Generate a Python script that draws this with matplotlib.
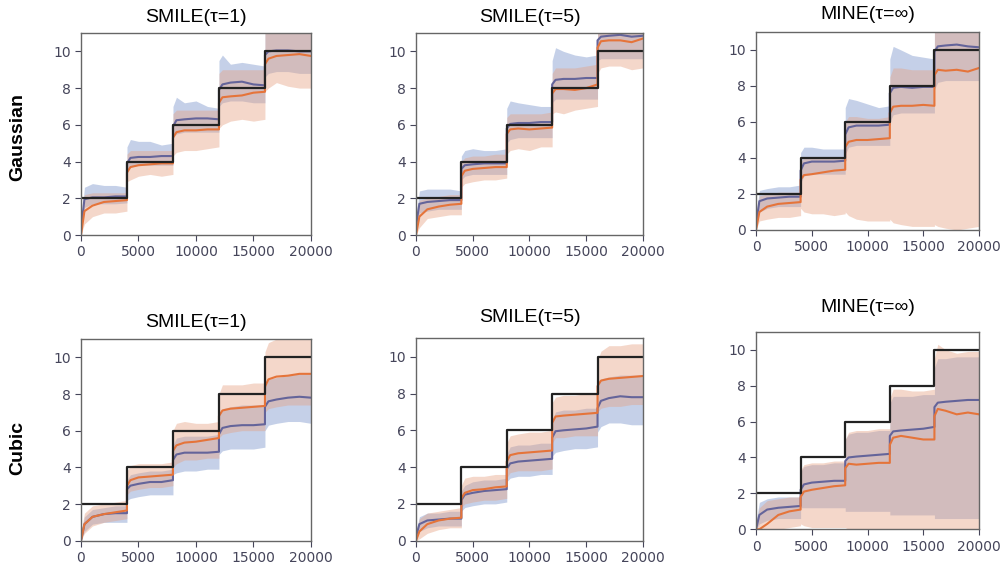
import matplotlib.pyplot as plt
import numpy as np

# training steps where values were read (6 per 4000-step stage)
steps = [0, 300, 1000, 2000, 3000, 3999,
         4000, 4300, 5000, 6000, 7000, 7999,
         8000, 8300, 9000, 10000, 11000, 11999,
         12000, 12300, 13000, 14000, 15000, 15999,
         16000, 16300, 17000, 18000, 19000, 20000]

true_edges = [0, 4000, 8000, 12000, 16000, 20000]
true_mi = [2, 4, 6, 8, 10, 10]

titles = ['SMILE(\u03c4=1)', 'SMILE(\u03c4=5)', 'MINE(\u03c4=\u221e)',
          'SMILE(\u03c4=1)', 'SMILE(\u03c4=5)', 'MINE(\u03c4=\u221e)']
row_labels = ['Gaussian', 'Cubic']

# ---- Gaussian, SMILE tau=1
g1_blue_mean = [0.3, 1.95, 2.05, 2.05, 2.1, 2.1, 3.9, 4.2, 4.25, 4.25, 4.3, 4.3,
                5.9, 6.25, 6.3, 6.35, 6.35, 6.3, 7.9, 8.2, 8.3, 8.35, 8.2, 8.15,
                9.8, 10.0, 10.05, 10.05, 10.0, 10.0]
g1_blue_low = [0.0, 1.5, 1.7, 1.7, 1.7, 1.75, 3.5, 3.7, 3.8, 3.8, 3.8, 3.8,
               5.3, 5.5, 5.6, 5.6, 5.6, 5.6, 7.0, 7.2, 7.3, 7.3, 7.2, 7.2,
               8.6, 8.8, 8.9, 8.9, 8.8, 8.8]
g1_blue_high = [0.6, 2.6, 2.8, 2.7, 2.7, 2.6, 4.8, 5.2, 5.1, 5.1, 4.9, 5.0,
                7.0, 7.5, 7.2, 7.3, 7.0, 6.9, 9.5, 9.8, 9.3, 9.4, 9.3, 9.2,
                11.5, 11.5, 11.5, 11.5, 11.5, 11.5]
g1_orange_mean = [0.0, 1.3, 1.6, 1.8, 1.85, 1.9, 3.4, 3.7, 3.8, 3.85, 3.9, 3.9,
                  5.3, 5.6, 5.7, 5.7, 5.75, 5.75, 7.2, 7.5, 7.55, 7.6, 7.75, 7.8,
                  9.3, 9.6, 9.75, 9.8, 9.85, 9.75]
g1_orange_low = [0.0, 0.6, 1.0, 1.2, 1.2, 1.3, 2.9, 3.0, 3.2, 3.3, 3.2, 3.3,
                 4.3, 4.5, 4.6, 4.6, 4.7, 4.8, 5.8, 6.0, 6.2, 6.3, 6.2, 6.3,
                 7.8, 8.0, 8.3, 8.1, 8.0, 8.0]
g1_orange_high = [0.5, 2.2, 2.3, 2.3, 2.3, 2.3, 4.4, 4.6, 4.6, 4.6, 4.6, 4.6,
                  6.6, 6.8, 6.8, 6.8, 6.8, 6.8, 8.8, 9.0, 9.0, 9.0, 9.0, 9.0,
                  11.5, 11.5, 11.5, 11.5, 11.5, 11.5]

# ---- Gaussian, SMILE tau=5
g5_blue_mean = [0.5, 1.7, 1.8, 1.85, 1.9, 1.9, 3.6, 3.8, 3.85, 3.9, 3.9, 3.9,
                5.8, 6.05, 6.1, 6.1, 6.15, 6.15, 8.2, 8.45, 8.5, 8.5, 8.55, 8.55,
                10.6, 10.8, 10.85, 10.9, 10.8, 10.85]
g5_blue_low = [0.0, 1.2, 1.3, 1.4, 1.4, 1.4, 3.0, 3.2, 3.3, 3.3, 3.3, 3.3,
               5.0, 5.2, 5.3, 5.3, 5.3, 5.3, 7.2, 7.4, 7.4, 7.4, 7.4, 7.4,
               9.5, 9.6, 9.6, 9.6, 9.6, 9.6]
g5_blue_high = [1.0, 2.4, 2.5, 2.5, 2.5, 2.4, 4.3, 4.6, 4.7, 4.6, 4.6, 4.7,
                6.9, 7.3, 7.2, 7.1, 7.0, 7.0, 9.5, 10.2, 10.0, 9.8, 9.7, 9.8,
                11.5, 11.5, 11.5, 11.5, 11.5, 11.5]
g5_orange_mean = [0.0, 1.0, 1.4, 1.55, 1.65, 1.7, 3.2, 3.5, 3.6, 3.65, 3.7, 3.7,
                  5.5, 5.75, 5.8, 5.75, 5.8, 5.85, 7.7, 7.95, 7.95, 7.9, 8.0, 8.2,
                  10.2, 10.55, 10.6, 10.6, 10.5, 10.7]
g5_orange_low = [0.0, 0.4, 0.9, 1.0, 1.1, 1.1, 2.6, 2.8, 2.9, 3.0, 3.0, 3.1,
                 4.4, 4.6, 4.7, 4.6, 4.8, 4.8, 6.6, 6.7, 6.6, 6.8, 6.9, 7.0,
                 8.8, 9.1, 9.2, 9.2, 9.0, 9.1]
g5_orange_high = [0.6, 1.9, 2.0, 2.1, 2.2, 2.2, 4.0, 4.2, 4.3, 4.3, 4.4, 4.4,
                  6.4, 6.6, 6.6, 6.6, 6.6, 6.7, 8.8, 9.1, 9.1, 9.1, 9.2, 9.3,
                  11.5, 11.5, 11.5, 11.5, 11.5, 11.5]

# ---- Gaussian, MINE
gm_blue_mean = [0.3, 1.6, 1.75, 1.8, 1.85, 1.85, 3.3, 3.7, 3.8, 3.8, 3.8, 3.85,
                5.3, 5.7, 5.8, 5.8, 5.8, 5.85, 7.6, 7.9, 7.95, 7.9, 7.95, 7.95,
                9.9, 10.2, 10.25, 10.3, 10.2, 10.15]
gm_blue_low = [0.0, 1.0, 1.2, 1.3, 1.3, 1.3, 2.6, 3.0, 3.1, 3.1, 3.1, 3.1,
               4.2, 4.6, 4.7, 4.7, 4.7, 4.7, 6.0, 6.4, 6.5, 6.5, 6.5, 6.5,
               7.8, 8.2, 8.3, 8.3, 8.3, 8.3]
gm_blue_high = [0.8, 2.2, 2.3, 2.4, 2.4, 2.5, 4.3, 4.6, 4.6, 4.5, 4.5, 4.5,
                6.8, 7.3, 7.2, 7.0, 6.8, 6.9, 9.5, 10.2, 10.0, 9.7, 9.6, 9.5,
                11.5, 11.5, 11.5, 11.5, 11.5, 11.5]
gm_orange_mean = [0.0, 1.0, 1.3, 1.45, 1.5, 1.55, 2.8, 3.05, 3.1, 3.2, 3.3, 3.35,
                  4.6, 4.9, 5.0, 5.0, 5.05, 5.1, 6.5, 6.85, 6.9, 6.9, 6.95, 6.9,
                  8.6, 8.9, 8.85, 8.9, 8.8, 9.0]
gm_orange_low = [0.0, 0.5, 0.6, 0.7, 0.7, 0.8, 1.2, 1.0, 0.9, 0.9, 0.8, 0.9,
                 1.0, 0.8, 0.6, 0.5, 0.5, 0.5, 0.6, 0.4, 0.3, 0.2, 0.2, 0.2,
                 0.3, 0.2, 0.1, 0.0, 0.1, 0.2]
gm_orange_high = [0.7, 1.9, 2.0, 2.1, 2.1, 2.1, 3.8, 4.0, 4.0, 4.0, 4.0, 4.1,
                  6.0, 6.3, 6.3, 6.2, 6.2, 6.3, 8.5, 9.0, 9.0, 8.9, 8.9, 8.9,
                  11.5, 11.5, 11.5, 11.5, 11.5, 11.5]

# ---- Cubic, SMILE tau=1
c1_blue_mean = [0.0, 0.9, 1.3, 1.45, 1.5, 1.5, 2.8, 3.0, 3.1, 3.2, 3.2, 3.3,
                4.4, 4.7, 4.8, 4.8, 4.8, 4.85, 5.8, 6.15, 6.25, 6.3, 6.3, 6.35,
                7.3, 7.6, 7.7, 7.8, 7.85, 7.8]
c1_blue_low = [0.0, 0.5, 0.9, 1.0, 1.0, 1.0, 2.2, 2.3, 2.4, 2.5, 2.5, 2.5,
               3.6, 3.7, 3.8, 3.8, 3.9, 3.9, 4.7, 4.9, 5.0, 5.0, 5.0, 5.1,
               6.0, 6.3, 6.4, 6.5, 6.5, 6.4]
c1_blue_high = [0.4, 1.3, 1.7, 1.8, 1.9, 1.9, 3.3, 3.6, 3.7, 3.8, 3.8, 3.9,
                5.2, 5.6, 5.7, 5.7, 5.7, 5.8, 6.9, 7.2, 7.3, 7.4, 7.4, 7.4,
                8.4, 8.8, 8.9, 9.0, 9.1, 9.1]
c1_orange_mean = [0.0, 0.9, 1.3, 1.45, 1.55, 1.65, 3.0, 3.3, 3.45, 3.5, 3.55, 3.6,
                  4.9, 5.2, 5.35, 5.4, 5.5, 5.6, 6.8, 7.1, 7.2, 7.25, 7.3, 7.35,
                  8.4, 8.8, 8.95, 9.0, 9.1, 9.1]
c1_orange_low = [0.0, 0.4, 0.8, 1.0, 1.1, 1.2, 2.5, 2.7, 2.8, 2.9, 2.9, 3.0,
                 4.0, 4.2, 4.4, 4.4, 4.5, 4.5, 5.6, 5.8, 5.9, 6.0, 6.0, 6.0,
                 7.0, 7.2, 7.3, 7.4, 7.4, 7.4]
c1_orange_high = [0.5, 1.5, 1.9, 2.0, 2.1, 2.2, 3.8, 4.1, 4.2, 4.2, 4.2, 4.3,
                  6.0, 6.4, 6.5, 6.4, 6.4, 6.5, 8.0, 8.5, 8.5, 8.5, 8.6, 8.6,
                  10.3, 10.8, 11.0, 11.0, 11.0, 11.0]

# ---- Cubic, SMILE tau=5
c5_blue_mean = [0.2, 0.9, 1.1, 1.15, 1.2, 1.2, 2.2, 2.5, 2.6, 2.7, 2.75, 2.8,
                3.9, 4.2, 4.3, 4.35, 4.4, 4.45, 5.6, 5.95, 6.0, 6.05, 6.1, 6.2,
                7.2, 7.6, 7.75, 7.85, 7.8, 7.8]
c5_blue_low = [0.0, 0.5, 0.7, 0.8, 0.8, 0.8, 1.6, 1.8, 1.9, 2.0, 2.0, 2.1,
               3.2, 3.4, 3.5, 3.5, 3.6, 3.6, 4.6, 4.8, 4.9, 5.0, 5.0, 5.1,
               5.9, 6.2, 6.4, 6.4, 6.3, 6.3]
c5_blue_high = [0.5, 1.3, 1.5, 1.5, 1.6, 1.6, 2.7, 3.0, 3.2, 3.3, 3.3, 3.4,
                4.7, 5.1, 5.2, 5.2, 5.3, 5.3, 6.6, 7.0, 7.1, 7.1, 7.2, 7.2,
                8.4, 8.8, 8.9, 9.0, 9.0, 9.0]
c5_orange_mean = [0.0, 0.5, 0.9, 1.1, 1.2, 1.25, 2.3, 2.6, 2.75, 2.8, 2.9, 2.95,
                  4.3, 4.65, 4.75, 4.8, 4.85, 4.9, 6.4, 6.75, 6.8, 6.85, 6.9, 6.95,
                  8.4, 8.7, 8.8, 8.85, 8.9, 8.95]
c5_orange_low = [0.0, 0.1, 0.4, 0.6, 0.7, 0.7, 1.8, 2.0, 2.1, 2.2, 2.2, 2.3,
                 3.4, 3.7, 3.8, 3.8, 3.8, 3.9, 5.3, 5.6, 5.6, 5.7, 5.7, 5.7,
                 7.0, 7.2, 7.3, 7.3, 7.4, 7.4]
c5_orange_high = [0.4, 1.2, 1.5, 1.6, 1.7, 1.8, 3.0, 3.4, 3.5, 3.5, 3.6, 3.6,
                  5.3, 5.7, 5.8, 5.9, 5.9, 6.0, 7.5, 7.8, 7.9, 7.9, 8.0, 8.0,
                  9.8, 10.3, 10.6, 10.6, 10.7, 10.7]

# ---- Cubic, MINE
cm_blue_mean = [0.0, 0.8, 1.1, 1.2, 1.25, 1.3, 2.2, 2.5, 2.6, 2.65, 2.7, 2.7,
                3.8, 4.0, 4.05, 4.1, 4.15, 4.2, 5.2, 5.45, 5.5, 5.55, 5.6, 5.7,
                6.8, 7.05, 7.1, 7.15, 7.2, 7.2]
cm_blue_low = [0.0, 0.3, 0.5, 0.6, 0.6, 0.6, 1.2, 1.2, 1.2, 1.2, 1.2, 1.2,
               1.0, 1.0, 1.0, 1.0, 1.0, 1.0, 0.8, 0.8, 0.8, 0.8, 0.8, 0.8,
               0.6, 0.6, 0.6, 0.6, 0.6, 0.6]
cm_blue_high = [0.4, 1.5, 1.7, 1.8, 1.8, 1.8, 3.2, 3.5, 3.6, 3.6, 3.7, 3.7,
                5.0, 5.3, 5.4, 5.4, 5.5, 5.5, 7.0, 7.4, 7.4, 7.4, 7.5, 7.5,
                9.0, 9.5, 9.5, 9.6, 9.6, 9.6]
cm_orange_mean = [0.0, 0.0, 0.3, 0.8, 1.0, 1.1, 1.8, 2.1, 2.2, 2.3, 2.4, 2.45,
                  3.4, 3.65, 3.6, 3.65, 3.7, 3.7, 4.7, 5.1, 5.2, 5.1, 5.0, 5.0,
                  6.3, 6.7, 6.6, 6.4, 6.5, 6.4]
cm_orange_low = [0.0, 0.0, 0.0, 0.0, 0.1, 0.2, 0.3, 0.2, 0.1, 0.1, 0.1, 0.1,
                 0.1, 0.0, 0.0, 0.0, 0.0, 0.0, 0.0, 0.0, 0.0, 0.0, 0.0, 0.0,
                 0.0, 0.0, 0.0, 0.0, 0.0, 0.0]
cm_orange_high = [0.3, 1.2, 1.6, 1.7, 1.8, 1.8, 3.3, 3.6, 3.7, 3.7, 3.8, 3.8,
                  5.0, 5.4, 5.5, 5.5, 5.6, 5.6, 7.3, 7.8, 7.8, 7.7, 7.7, 7.8,
                  9.5, 10.3, 10.0, 9.8, 9.9, 9.9]

panels = [
    (g1_blue_mean, g1_blue_low, g1_blue_high, g1_orange_mean, g1_orange_low, g1_orange_high),
    (g5_blue_mean, g5_blue_low, g5_blue_high, g5_orange_mean, g5_orange_low, g5_orange_high),
    (gm_blue_mean, gm_blue_low, gm_blue_high, gm_orange_mean, gm_orange_low, gm_orange_high),
    (c1_blue_mean, c1_blue_low, c1_blue_high, c1_orange_mean, c1_orange_low, c1_orange_high),
    (c5_blue_mean, c5_blue_low, c5_blue_high, c5_orange_mean, c5_orange_low, c5_orange_high),
    (cm_blue_mean, cm_blue_low, cm_blue_high, cm_orange_mean, cm_orange_low, cm_orange_high),
]

# axes boxes in figure fractions (left, bottom, width, height)
boxes = [
    [0.0805, 0.5884, 0.2286, 0.3538],
    [0.4135, 0.5884, 0.2256, 0.3538],
    [0.7515, 0.5972, 0.2217, 0.3468],
    [0.0805, 0.0531, 0.2286, 0.3532],
    [0.4135, 0.0531, 0.2256, 0.3544],
    [0.7515, 0.0730, 0.2217, 0.3461],
]
title_pads = [8, 8, 9, 9, 12, 14]

blue_band = '#8ca3d2'
orange_band = '#e6a182'
blue_line = '#64649a'
orange_line = '#e5743a'
tick_col = '#45455a'

fig = plt.figure(figsize=(10.06, 5.71), dpi=100)
x = np.array(steps)

for i in range(6):
    bm, bl, bh, om, ol, oh = [np.array(a) for a in panels[i]]
    ax = fig.add_axes(boxes[i])
    ax.fill_between(x, bl, bh, color=blue_band, alpha=0.5, lw=0)
    ax.fill_between(x, ol, oh, color=orange_band, alpha=0.42, lw=0)
    ax.plot(x, bm, color=blue_line, lw=1.5)
    ax.plot(x, om, color=orange_line, lw=1.5)
    ax.step(true_edges, true_mi, where='post', color='#222222', lw=1.6)
    ax.set_xlim(0, 20000)
    ax.set_ylim(0, 11)
    ax.set_xticks([0, 5000, 10000, 15000, 20000])
    ax.set_yticks([0, 2, 4, 6, 8, 10])
    ax.tick_params(labelsize=10, colors=tick_col, length=4, width=0.8)
    for s in ax.spines.values():
        s.set_color('#666666')
        s.set_linewidth(1.0)
    ax.set_title(titles[i], fontsize=14, family='Liberation Sans', pad=title_pads[i])

fig.text(0.018, 0.760, row_labels[0], rotation=90, fontsize=14, fontweight='bold',
         family='Liberation Sans', ha='center', va='center')
fig.text(0.018, 0.215, row_labels[1], rotation=90, fontsize=14, fontweight='bold',
         family='Liberation Sans', ha='center', va='center')

plt.savefig('out.png', dpi=100)
plt.close()
